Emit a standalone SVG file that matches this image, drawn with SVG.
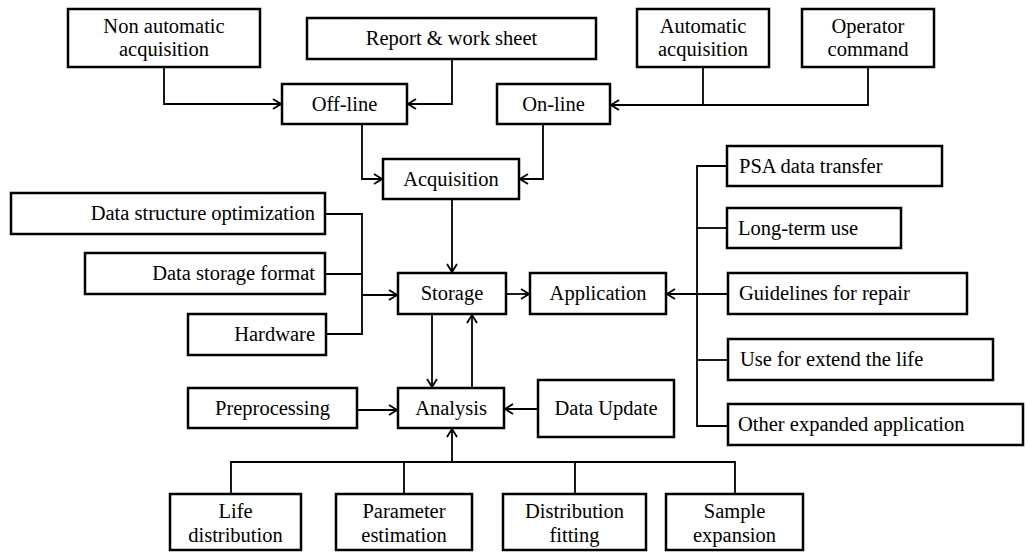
<svg xmlns="http://www.w3.org/2000/svg" width="1026" height="552" viewBox="0 0 1026 552" font-family="'Liberation Serif', 'DejaVu Serif', serif">
<defs>
<marker id="arr" viewBox="0 0 10 12" markerWidth="10" markerHeight="12" refX="9" refY="6" orient="auto" markerUnits="userSpaceOnUse">
<path d="M1,1 L9,6 L1,11" fill="none" stroke="#000" stroke-width="1.8"/>
</marker>
<style>
.b{fill:#fff;stroke:#000;stroke-width:2.5}
.t{font-family:'Liberation Serif',serif;font-size:20.5px;fill:#000;text-anchor:middle}
.r{text-anchor:end}
.l{text-anchor:start}
.c{fill:none;stroke:#000;stroke-width:1.8}
.a{marker-end:url(#arr)}
</style>
</defs>
<rect width="1026" height="552" fill="#fff"/>
<g id="connectors">
<path class="c a" d="M164,67 V104 H281"/>
<path class="c a" d="M452,59 V104 H408"/>
<path class="c a" d="M868,67 V105 H611"/>
<path class="c" d="M703,67 V105"/>
<path class="c a" d="M362,124 V179 H382"/>
<path class="c a" d="M543,124 V179 H520"/>
<path class="c a" d="M452,199 V272"/>
<path class="c" d="M325,214 H362 V334 H326"/>
<path class="c" d="M325,274 H362"/>
<path class="c a" d="M362,295 H397"/>
<path class="c a" d="M506,294 H529"/>
<path class="c" d="M727,166 H697 V426 H727"/>
<path class="c" d="M697,228 H726"/>
<path class="c" d="M697,360 H728"/>
<path class="c a" d="M727,294 H667"/>
<path class="c a" d="M432,314 V387"/>
<path class="c a" d="M472,388 V315"/>
<path class="c a" d="M357,410 H397"/>
<path class="c a" d="M538,409 H505"/>
<path class="c" d="M231,494 V462 H735 V494 M404,462 V494 M575,462 V494"/>
<path class="c a" d="M452,462 V429"/>
</g>
<g id="non-automatic-acquisition"><rect class="b" x="68" y="9" width="192" height="58"/><text class="t" x="164" y="33">Non automatic</text><text class="t" x="164" y="56">acquisition</text></g>
<g id="report-work-sheet"><rect class="b" x="307" y="18" width="289" height="41"/><text class="t" x="451.5" y="45">Report &amp; work sheet</text></g>
<g id="automatic-acquisition"><rect class="b" x="637" y="9" width="132" height="58"/><text class="t" x="703" y="33">Automatic</text><text class="t" x="703" y="56">acquisition</text></g>
<g id="operator-command"><rect class="b" x="802" y="9" width="132" height="58"/><text class="t" x="868" y="33">Operator</text><text class="t" x="868" y="56">command</text></g>
<g id="off-line"><rect class="b" x="282" y="84" width="125" height="40"/><text class="t" x="344.5" y="111">Off-line</text></g>
<g id="on-line"><rect class="b" x="497" y="84" width="113" height="40"/><text class="t" x="553.5" y="111">On-line</text></g>
<g id="acquisition"><rect class="b" x="383" y="159" width="136" height="40"/><text class="t" x="451" y="186">Acquisition</text></g>
<g id="data-structure-optimization"><rect class="b" x="11" y="193" width="314" height="41"/><text class="t r" x="315" y="220">Data structure optimization</text></g>
<g id="data-storage-format"><rect class="b" x="85" y="253" width="240" height="41"/><text class="t r" x="315" y="280">Data storage format</text></g>
<g id="hardware"><rect class="b" x="188" y="314" width="138" height="41"/><text class="t r" x="315" y="341">Hardware</text></g>
<g id="storage"><rect class="b" x="398" y="273" width="108" height="41"/><text class="t" x="452" y="300">Storage</text></g>
<g id="application"><rect class="b" x="530" y="273" width="136" height="41"/><text class="t" x="598" y="300">Application</text></g>
<g id="psa-data-transfer"><rect class="b" x="727" y="146" width="215" height="40"/><text class="t l" x="739" y="173">PSA data transfer</text></g>
<g id="long-term-use"><rect class="b" x="727" y="208" width="174" height="40"/><text class="t l" x="738" y="235">Long-term use</text></g>
<g id="guidelines-for-repair"><rect class="b" x="728" y="273" width="239" height="41"/><text class="t l" x="739" y="300">Guidelines for repair</text></g>
<g id="use-for-extend-the-life"><rect class="b" x="728" y="339" width="265" height="41"/><text class="t l" x="740" y="366">Use for extend the life</text></g>
<g id="other-expanded-application"><rect class="b" x="728" y="404" width="295" height="41"/><text class="t l" x="738" y="431">Other expanded application</text></g>
<g id="preprocessing"><rect class="b" x="188" y="388" width="169" height="40"/><text class="t" x="272.5" y="415">Preprocessing</text></g>
<g id="analysis"><rect class="b" x="398" y="388" width="106" height="40"/><text class="t" x="451" y="415">Analysis</text></g>
<g id="data-update"><rect class="b" x="538" y="380" width="136" height="57"/><text class="t" x="606" y="415">Data Update</text></g>
<g id="life-distribution"><rect class="b" x="170" y="494" width="131" height="56"/><text class="t" x="235.5" y="518">Life</text><text class="t" x="235.5" y="542">distribution</text></g>
<g id="parameter-estimation"><rect class="b" x="336" y="494" width="136" height="56"/><text class="t" x="404" y="518">Parameter</text><text class="t" x="404" y="542">estimation</text></g>
<g id="distribution-fitting"><rect class="b" x="503" y="494" width="143" height="56"/><text class="t" x="574.5" y="518">Distribution</text><text class="t" x="574.5" y="542">fitting</text></g>
<g id="sample-expansion"><rect class="b" x="666" y="494" width="137" height="56"/><text class="t" x="734.5" y="518">Sample</text><text class="t" x="734.5" y="542">expansion</text></g>
</svg>
